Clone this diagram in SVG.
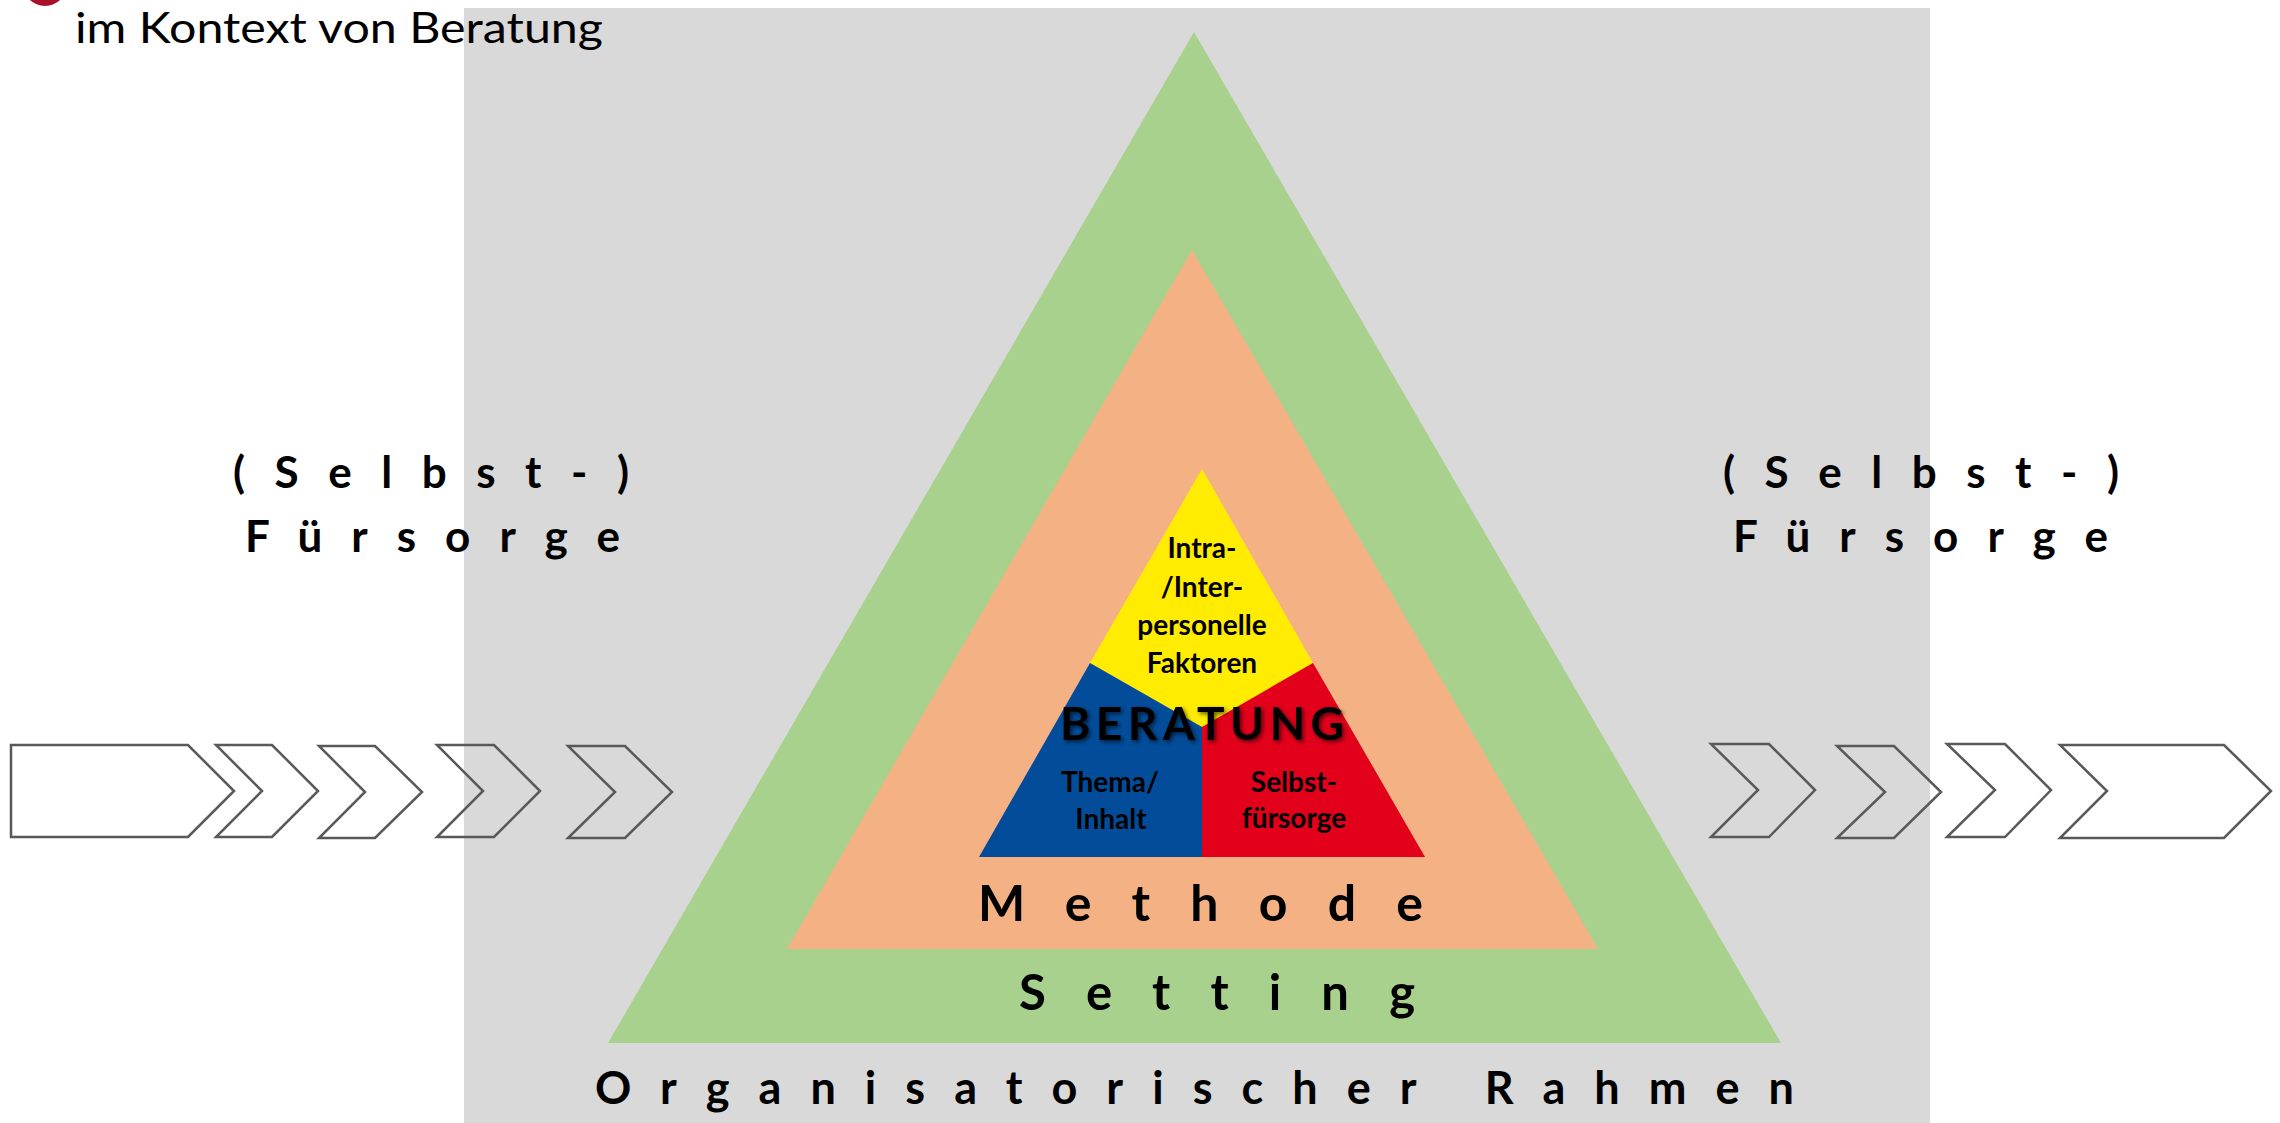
<svg xmlns="http://www.w3.org/2000/svg" width="2280" height="1123" viewBox="0 0 2280 1123">
<defs>
<style>
text{font-variant-ligatures:none;font-feature-settings:"liga" 0,"clig" 0}
.chev{fill:none;stroke:#595959;stroke-width:2.5;stroke-linejoin:miter}
.b{font-family:Lato,"Liberation Sans",sans-serif;font-weight:700;fill:#000}
.in{font-size:28px;text-anchor:middle}
</style>
<filter id="sh" x="-10%" y="-30%" width="120%" height="160%">
<feGaussianBlur in="SourceAlpha" stdDeviation="2.2"/>
<feOffset dx="2" dy="2" result="o"/>
<feComponentTransfer><feFuncA type="linear" slope="0.6"/></feComponentTransfer>
<feMerge><feMergeNode/><feMergeNode in="SourceGraphic"/></feMerge>
</filter>
</defs>
<rect x="0" y="0" width="2280" height="1123" fill="#FFFFFF"/>
<rect id="frame" x="464" y="8" width="1466" height="1115" fill="#D9D9D9"/>

<g id="title">
<circle cx="45" cy="-16" r="22" fill="#A8102C"/>
<text x="75" y="43" font-family="Lato,'Liberation Sans',sans-serif" font-size="42" fill="#000" textLength="528" lengthAdjust="spacingAndGlyphs">im Kontext von Beratung</text>
</g>

<g id="chevrons-left">
<polygon class="chev" points="11,745 188,745 234,791 188,837 11,837"/>
<polygon class="chev" points="216,745 272,745 318,791 272,837 216,837 262,791"/>
<polygon class="chev" points="319,746 375,746 422,792 375,838 319,838 365,792"/>
<polygon class="chev" points="437,745 494,745 540,791 494,837 437,837 483,791"/>
<polygon class="chev" points="568,746 625,746 672,792 625,838 568,838 615,792"/>
</g>
<g id="chevrons-right">
<polygon class="chev" points="1711,744 1769,744 1815,790 1769,837 1711,837 1758,790"/>
<polygon class="chev" points="1837,746 1894,746 1941,792 1894,838 1837,838 1885,792"/>
<polygon class="chev" points="1947,744 2005,744 2051,790 2005,837 1947,837 1995,790"/>
<polygon class="chev" points="2060,745 2224,745 2271,791 2224,838 2060,838 2107,791"/>
</g>

<g id="setting">
<polygon points="1194,32 1781,1043 608,1043" fill="#A9D18E"/>
<text class="b" x="1019" y="1010" font-size="49" textLength="396" lengthAdjust="spacing">Setting</text>
</g>
<g id="methode">
<polygon points="1192,250 1598,949 787,949" fill="#F4B183"/>
<text class="b" x="978" y="921" font-size="50" textLength="445" lengthAdjust="spacing">Methode</text>
</g>

<g id="beratung">
<g id="intra">
<polygon points="1202,469 1313,663 1202,727 1090,663" fill="#FFEC00"/>
<text class="b in" x="1202" y="558">Intra-</text>
<text class="b in" x="1202" y="597">/Inter-</text>
<text class="b in" x="1202" y="635">personelle</text>
<text class="b in" x="1202" y="673">Faktoren</text>
</g>
<g id="thema">
<polygon points="1090,663 1202,727 1202,857 979,857" fill="#024C9A"/>
<text class="b in" x="1110" y="792">Thema/</text>
<text class="b in" x="1111" y="829">Inhalt</text>
</g>
<g id="selbstfuersorge">
<polygon points="1313,663 1425,857 1202,857 1202,727" fill="#E2001A"/>
<text class="b in" x="1294" y="792">Selbst-</text>
<text class="b in" x="1294" y="828">fürsorge</text>
</g>
<text class="b" x="1060" y="740" font-size="46" textLength="284" lengthAdjust="spacing" filter="url(#sh)">BERATUNG</text>
</g>

<g id="rahmen">
<text class="b" x="595" y="1104" font-size="45" textLength="1199" lengthAdjust="spacing">Organisatorischer Rahmen</text>
</g>

<g id="fuersorge-left">
<text class="b" x="233" y="488" font-size="44" textLength="396" lengthAdjust="spacing">(Selbst-)</text>
<text class="b" x="245" y="552" font-size="44" textLength="375" lengthAdjust="spacing">Fürsorge</text>
</g>
<g id="fuersorge-right">
<text class="b" x="1723" y="488" font-size="44" textLength="396" lengthAdjust="spacing">(Selbst-)</text>
<text class="b" x="1733" y="552" font-size="44" textLength="375" lengthAdjust="spacing">Fürsorge</text>
</g>
</svg>
